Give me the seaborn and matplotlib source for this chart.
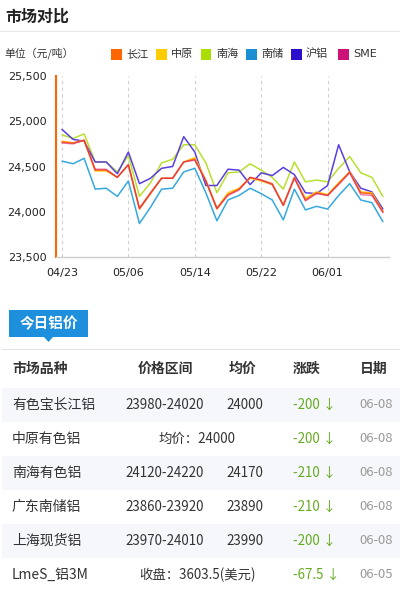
import numpy as np
import pandas as pd
import matplotlib
matplotlib.use('Agg')
import matplotlib.pyplot as plt
import seaborn as sns
from matplotlib.patches import Rectangle, Polygon
from matplotlib.ticker import FuncFormatter

# ---- DATI ----
dates = ["04/23", "04/24", "04/25", "04/26", "04/27", "05/03", "05/06", "05/07", "05/08", "05/09",
         "05/10", "05/11", "05/14", "05/15", "05/16", "05/17", "05/18", "05/21", "05/22", "05/23",
         "05/24", "05/25", "05/28", "05/29", "06/01", "06/04", "06/05", "06/06", "06/07", "06/08"]
tick_dates = ["04/23", "05/06", "05/14", "05/22", "06/01"]

changjiang = [24770, 24760, 24790, 24460, 24460, 24380, 24520, 24030, 24200, 24370,
              24370, 24550, 24580, 24340, 24030, 24190, 24250, 24380, 24350, 24310,
              24070, 24380, 24130, 24210, 24180, 24310, 24440, 24210, 24200, 24000]
zhongyuan = [24780, 24760, 24790, 24450, 24450, 24380, 24520, 24040, 24210, 24370,
             24370, 24550, 24600, 24350, 24040, 24210, 24260, 24370, 24340, 24300,
             24080, 24370, 24150, 24220, 24190, 24320, 24440, 24220, 24210, 24000]
nanhai = [24850, 24810, 24860, 24550, 24550, 24440, 24620, 24170, 24320, 24540,
          24580, 24740, 24740, 24540, 24210, 24430, 24440, 24530, 24460, 24380,
          24250, 24550, 24330, 24350, 24330, 24480, 24610, 24430, 24380, 24170]
nanchu = [24560, 24530, 24590, 24250, 24260, 24170, 24340, 23870, 24050, 24250,
          24260, 24440, 24480, 24210, 23900, 24130, 24180, 24260, 24200, 24130,
          23910, 24250, 24020, 24060, 24030, 24180, 24310, 24130, 24100, 23890]
hulv = [24910, 24800, 24780, 24550, 24550, 24420, 24660, 24310, 24370, 24480,
        24500, 24830, 24660, 24290, 24290, 24470, 24460, 24300, 24430, 24400,
        24490, 24410, 24210, 24200, 24290, 24740, 24440, 24260, 24220, 24030]
sme = [24760, 24750, 24790, 24470, 24470, 24380, 24520, 24040, 24210, 24370,
       24370, 24550, 24570, 24340, 24040, 24180, 24240, 24380, 24350, 24300,
       24070, 24370, 24120, 24200, 24180, 24300, 24430, 24190, 24180, 23990]

legend_names = ["长江", "中原", "南海", "南储", "沪铝", "SME"]
legend_colors = ["#ff6600", "#ffcc00", "#aadd00", "#1a8fd2", "#2a10cc", "#cc1177"]
line_colors = {"长江": "#ff6a10", "中原": "#ffcc22", "南海": "#b8e030",
               "南储": "#35a8e0", "沪铝": "#5a3fe0", "SME": "#d81a70"}

# tabella
table_header = ["市场品种", "价格区间", "均价", "涨跌", "日期"]
row_names = ["有色宝长江铝", "中原有色铝", "南海有色铝", "广东南储铝", "上海现货铝", "LmeS_铝3M"]
row_ranges = ["23980-24020", "均价：24000", "24120-24220", "23860-23920", "23970-24010", "收盘：3603.5(美元)"]
row_avg = ["24000", "", "24170", "23890", "23990", ""]
row_change = ["-200", "-200", "-210", "-210", "-200", "-67.5"]
row_dates = ["06-08", "06-08", "06-08", "06-08", "06-08", "06-05"]

series = {"长江": changjiang, "中原": zhongyuan, "南海": nanhai,
          "南储": nanchu, "沪铝": hulv, "SME": sme}
rows = []
for name, vals in series.items():
    for i, v in enumerate(vals):
        rows.append({"idx": i, "date": dates[i], "market": name, "price": v})
df = pd.DataFrame(rows)

# ---- FIGURA ----
sns.set_style("white")
plt.rcParams['font.family'] = ['Noto Sans CJK SC', 'DejaVu Sans']

W, H = 400, 592
fig = plt.figure(figsize=(W / 100, H / 100), dpi=100)
fig.patch.set_facecolor('white')


def px(x, y):
    return x / W, 1 - y / H


def ftext(x, y, s, **kw):
    fx, fy = px(x, y)
    fig.text(fx, fy, s, **kw)


def frect(x0, y0, x1, y1, color, z=0):
    fig.add_artist(Rectangle((x0 / W, 1 - y1 / H), (x1 - x0) / W, (y1 - y0) / H,
                             transform=fig.transFigure, facecolor=color,
                             edgecolor='none', zorder=z))


# titolo
ftext(5, 17, "市场对比", fontsize=11.5, fontweight='bold', color='#222222', va='center')
frect(0, 31, 400, 32.3, '#e8e8e8')

# legenda manuale
ftext(4, 53, "单位（元/吨）", fontsize=7.8, color='#333333', va='center')
leg_x = [111, 156, 201, 246, 291, 338]
for lx, name, col in zip(leg_x, legend_names, legend_colors):
    frect(lx, 49, lx + 10.5, 59.5, col, z=2)
    fam = ['DejaVu Sans'] if name == "SME" else ['Noto Sans CJK SC', 'DejaVu Sans']
    ftext(lx + 15, 54, name, fontsize=8, color='#333333', va='center', family=fam)

# ---- GRAFICO ----
ax_l, ax_t, ax_r, ax_b = 56, 76, 389, 257
ax = fig.add_axes([ax_l / W, 1 - ax_b / H, (ax_r - ax_l) / W, (ax_b - ax_t) / H])

order = ["南储", "南海", "沪铝", "中原", "长江", "SME"]
sns.lineplot(data=df, x="idx", y="price", hue="market", hue_order=order,
             palette=line_colors, linewidth=1.1, legend=False, ax=ax)
for line, name in zip(ax.get_lines(), order):
    if name == "SME":
        line.set_alpha(0.6)
        line.set_linewidth(1.0)

ax.set_xlim(-0.54, 29.55)
ax.set_ylim(23500, 25500)
ax.set_yticks([23500, 24000, 24500, 25000, 25500])
ax.yaxis.set_major_formatter(FuncFormatter(lambda v, p: f"{int(v):,}"))
tick_idx = [dates.index(d) for d in tick_dates]
ax.set_xticks(tick_idx)
ax.set_xticklabels(tick_dates)
ax.set_xlabel("")
ax.set_ylabel("")
for t in tick_idx:
    ax.axvline(t, color='#d0d0d0', linestyle=(0, (3, 3)), linewidth=0.8, zorder=0)

for s in ['top', 'right']:
    ax.spines[s].set_visible(False)
ax.spines['left'].set_color('#ff6600')
ax.spines['left'].set_linewidth(1.5)
ax.spines['bottom'].set_color('#cccccc')
ax.spines['bottom'].set_linewidth(1)
ax.tick_params(axis='y', colors='#ff6600', length=4, width=1, labelcolor='#222222',
               labelsize=8, pad=3)
ax.tick_params(axis='x', colors='#cccccc', length=3, width=1, labelcolor='#222222',
               labelsize=8, pad=5)
for lab in ax.get_xticklabels() + ax.get_yticklabels():
    lab.set_family('DejaVu Sans')

# ---- TABELLA ----
frect(9, 310, 88, 337, '#1e8fdc', z=2)
fig.add_artist(Polygon([px(44, 337), px(53, 337), px(48.5, 342)], closed=True,
                       transform=fig.transFigure, facecolor='#1e8fdc',
                       edgecolor='none', zorder=2))
ftext(48.5, 323.5, "今日铝价", fontsize=10.5, fontweight='bold', color='white',
      ha='center', va='center', zorder=3)
frect(2, 348.5, 400, 349.8, '#e2e2ea')

header_x = [12, 165, 243, 293, 374]
header_ha = ['left', 'center', 'center', 'left', 'center']
for hx, ha, h in zip(header_x, header_ha, table_header):
    ftext(hx, 369, h, fontsize=10, fontweight='bold', color='#333333', ha=ha, va='center')

row_top = 388
row_h = 34
for i in range(len(row_names)):
    y0 = row_top + i * row_h
    yc = y0 + row_h / 2
    if i % 2 == 0:
        frect(2, y0, 400, y0 + row_h, '#f6f7fa')
    ftext(12, yc, row_names[i], fontsize=10, color='#333333', va='center')
    if row_avg[i]:
        ftext(165, yc, row_ranges[i], fontsize=9.6, color='#333333', ha='center', va='center')
        ftext(245, yc, row_avg[i], fontsize=9.6, color='#333333', ha='center', va='center')
    else:
        ftext(197, yc, row_ranges[i], fontsize=9.6, color='#333333', ha='center', va='center')
    ftext(293, yc, row_change[i] + " ↓", fontsize=9.6, color='#66aa22', va='center')
    ftext(376, yc, row_dates[i], fontsize=9.4, color='#999999', ha='center', va='center')

fig.savefig("out.png", dpi=100, facecolor='white')
